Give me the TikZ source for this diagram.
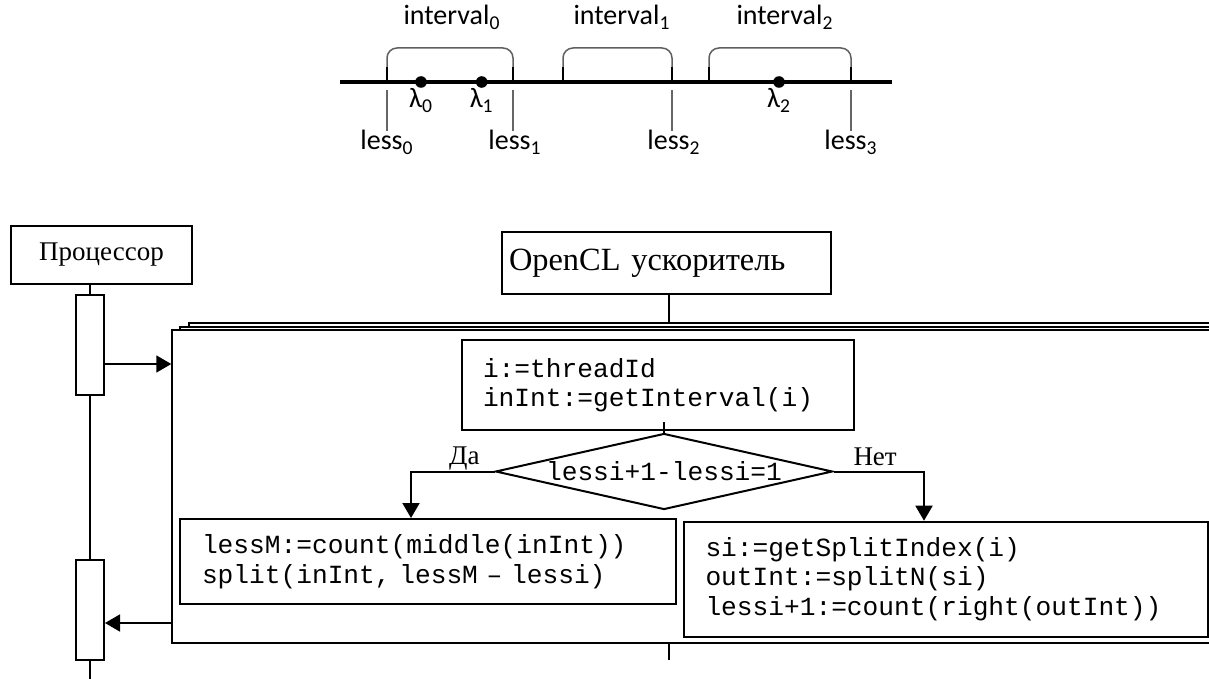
\documentclass[tikz,border=0pt]{standalone}
\usepackage{fontspec}
\setmainfont{Liberation Serif}
\setmonofont{Liberation Mono}
\newfontfamily\calfont{Carlito}
\usetikzlibrary{shapes.geometric, arrows.meta, positioning, calc}

\begin{document}
\begin{tikzpicture}[
    x=0.5pt, y=-0.5pt,
    box/.style={draw, line width=1pt, fill=white, inner sep=0pt, font=\fontsize{13.5pt}{16pt}\selectfont},
    code/.style={draw, line width=1pt, fill=white, align=left, inner ysep=0pt, font=\fontsize{13.1pt}{14.75pt}\ttfamily},
    cond/.style={diamond, draw, line width=1pt, fill=white, aspect=4.43, inner sep=0pt, minimum width=168.5pt, minimum height=38pt, font=\fontsize{13.1pt}{14.75pt}\ttfamily},
    kernelframe/.style={draw, line width=0.7pt, fill=white, minimum width=529pt, minimum height=156.5pt, inner sep=0pt},
    act/.style={draw, line width=1pt, fill=white, minimum width=14pt, minimum height=50pt, inner sep=0pt},
    life/.style={line width=1pt},
    msg/.style={-{Triangle[length=7.5pt, width=8.5pt]}, line width=0.8pt},
    label/.style={font=\fontsize{13.5pt}{16pt}\selectfont},
    axis/.style={line width=1.6pt},
    tick/.style={line width=1.3pt},
    brace/.style={draw=gray!75!black, line width=0.75pt, rounded corners=5pt},
    drop/.style={draw=gray!80!black, line width=0.6pt},
    lbl/.style={font=\fontsize{14pt}{16pt}\calfont, inner sep=0pt},
]
\useasboundingbox (0,0) rectangle (1209,679);
\clip (0,0) rectangle (1209,679);

% Number line with intervals
\draw[axis] (340,82) -- (892,82);
\foreach \a/\b/\n/\lx in {387/513/0/452, 563/672/1/622, 709/851/2/785} {
    \draw[tick] (\a,82) -- (\a,67);
    \draw[tick] (\b,82) -- (\b,67);
    \draw[brace] (\a,67) -- (\a,48) -- (\b,48) -- (\b,67);
    \node[lbl, anchor=base] at (\lx,25) {interval\textsubscript{\n}};
}
\foreach \x/\n in {387/0, 515/1, 674/2, 851/3} {
    \node[lbl, anchor=base] at (\x,150) {less\textsubscript{\n}};
}
\foreach \x in {387, 513, 672, 851} {
    \draw[drop] (\x,90) -- (\x,131);
}
\foreach \x/\n in {421/0, 481.7/1, 779/2} {
    \fill (\x,82) circle[radius=2.9pt];
    \node[lbl, anchor=base] at (\x,108) {λ\textsubscript{\n}};
}

% Processor
\node[box, minimum width=90.5pt, minimum height=29pt] (cpu) at (101.5,255) {Процессор};
\node[act] (act1) at (90,345) {};
\node[act] (act2) at (90,610) {};
\coordinate (cpuend) at (90,679);

% OpenCL device
\node[box, minimum width=164.5pt, minimum height=30.85pt, text width=157pt, inner xsep=3.75pt, align=left,
    font=\fontsize{16.2pt}{18pt}\selectfont] (ocl) at (666,263) {OpenCL ускоритель};
\node[kernelframe] (kernelC) at (718,479.5) {};
\node[kernelframe] (kernelB) at (709,483.5) {};
\node[kernelframe] (kernel) at (701,486.5) {};
\coordinate (oclend) at (669,660);

% Kernel body
\node[code, minimum width=196pt, minimum height=45pt, text width=175pt, inner xsep=10.5pt] (init) at (658,385)
    {i:=threadId\\inInt:=getInterval(i)};
\node[cond] (check) at (664,471.5) {lessi+1-lessi=1};
\node[code, minimum width=248pt, minimum height=42.5pt, text width=226pt, inner xsep=11pt] (yesbox) at (428,561.5)
    {lessM:=count(middle(inInt))\\split(inInt, lessM – lessi)};
\node[code, minimum width=262pt, minimum height=57.5pt, text width=240.5pt, inner xsep=10.75pt] (nobox) at (946,579.2)
    {si:=getSplitIndex(i)\\outInt:=splitN(si)\\lessi+1:=count(right(outInt))};

% --- Lifelines ---
\draw[life] (act1.north |- cpu.south) -- (act1.north);
\draw[life] (act1.south) -- (act2.north);
\draw[life] (act2.south) -- (cpuend);
\draw[life] (ocl.south -| oclend) -- (oclend |- kernelC.north);
\draw[life] (kernel.south -| oclend) -- (oclend);

% --- Messages ---
\draw[msg] ([yshift=-9.5pt]act1.east) -- ([yshift=-9.5pt]act1.east -| kernel.west);
\draw[msg] ([yshift=-6.5pt]act2.east -| kernel.west) -- ([yshift=-6.5pt]act2.east);

% --- Branches ---
\draw[life] ([yshift=4.5pt]init.south -| check.north) -- (check.north);
\draw[msg, line width=1pt] (check.west) -| node[label, above=-3pt, pos=0.18] {Да} ([xshift=-8.5pt]yesbox.north);
\draw[msg, line width=1pt] (check.east) -| node[label, above=-1pt, pos=0.23] {Нет} ([xshift=-11pt]nobox.north);

\end{tikzpicture}
\end{document}
